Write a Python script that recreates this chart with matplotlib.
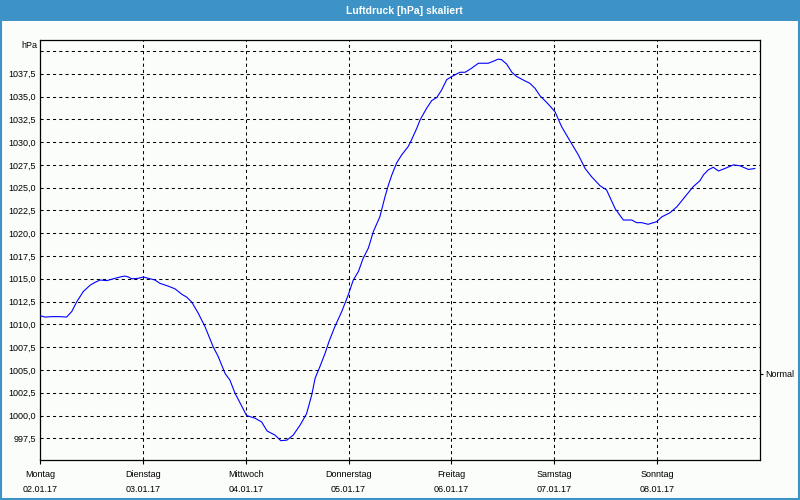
import matplotlib
matplotlib.use("Agg")
import matplotlib.pyplot as plt
import numpy as np
from matplotlib.patches import Rectangle

# hours since Monday 02.01.17 00:00 and pressure (hPa)
hours = [0, 1.2, 2.7, 4.7, 6.2, 7.4, 8.6, 10.1, 11.7, 12.8, 14.0, 15.6, 17.1, 18.7,
         19.8, 20.6, 21.4, 22.9, 24.1, 25.3, 26.8, 28.0, 29.9, 31.5, 33.1, 34.2,
         35.4, 36.9, 38.5, 40.4, 41.6, 43.2, 44.3, 45.5, 47.1, 48.2, 50.2, 51.7,
         53.0, 54.8, 56.2, 57.6, 59.1, 60.7, 62.2, 63.4, 64.2, 65.3, 66.5, 67.5,
         68.8, 70.4, 71.9, 73.1, 74.3, 75.4, 76.6, 77.8, 79.3, 80.5, 81.3, 82.1,
         83.2, 84.4, 85.9, 86.7, 87.9, 88.7, 90.2, 91.4, 92.6, 93.7, 94.9, 96.1,
         98.0, 99.2, 100.7, 102.3, 104.6, 105.8, 106.9, 107.7, 108.9, 110.1, 111.2,
         112.8, 114.3, 115.5, 116.7, 117.8, 119.0, 120.2, 121.7, 123.7, 125.6,
         127.2, 128.7, 130.7, 132.2, 134.2, 136.1, 138.1, 139.2, 140.4, 141.9,
         143.9, 145.1, 147.0, 148.6, 150.5, 152.4, 154.0, 154.8, 155.9, 157.1,
         158.3, 159.8, 161.8, 163.3, 165.3, 166.8]
pressure = [1010.95, 1010.8, 1010.85, 1010.85, 1010.8, 1011.4, 1012.5, 1013.6, 1014.3,
            1014.6, 1014.87, 1014.8, 1015.0, 1015.2, 1015.3, 1015.2, 1015.0, 1015.05,
            1015.2, 1015.05, 1014.87, 1014.5, 1014.2, 1013.9, 1013.3, 1013.0, 1012.45,
            1011.25, 1009.75, 1007.55, 1006.45, 1004.6, 1003.9, 1002.45, 1001.0,
            1000.0, 999.7, 999.3, 998.3, 997.86, 997.24, 997.3, 997.86, 998.96,
            1000.2, 1002.25, 1004.1, 1005.35, 1006.8, 1008.2, 1009.75, 1011.4, 1013.2,
            1014.87, 1015.8, 1017.25, 1018.35, 1020.2, 1021.8, 1024.0, 1025.3, 1026.4,
            1027.7, 1028.6, 1029.5, 1030.25, 1031.5, 1032.45, 1033.7, 1034.55, 1034.9,
            1035.7, 1036.85, 1037.2, 1037.66, 1037.66, 1038.1, 1038.65, 1038.65,
            1038.87, 1039.1, 1039.05, 1038.55, 1037.66, 1037.2, 1036.8, 1036.45,
            1035.9, 1035.06, 1034.55, 1033.96, 1033.3, 1031.7, 1030.1, 1028.6, 1027.1,
            1026.2, 1025.2, 1024.75, 1022.7, 1021.45, 1021.45, 1021.16, 1021.16,
            1020.98, 1021.27, 1021.8, 1022.25, 1022.9, 1024.0, 1025.1, 1025.77, 1026.4,
            1026.94, 1027.24, 1026.83, 1027.1, 1027.5, 1027.4, 1027.0, 1027.1]

day_names = ["Montag", "Dienstag", "Mittwoch", "Donnerstag", "Freitag", "Samstag", "Sonntag"]
day_dates = ["02.01.17", "03.01.17", "04.01.17", "05.01.17", "06.01.17", "07.01.17", "08.01.17"]
y_ticks = [997.5, 1000.0, 1002.5, 1005.0, 1007.5, 1010.0, 1012.5, 1015.0, 1017.5,
           1020.0, 1022.5, 1025.0, 1027.5, 1030.0, 1032.5, 1035.0, 1037.5, 1040.0]
normal_level = 1004.6

blue = "#3d93c6"
bg = "#fbfdfb"
font = "Liberation Sans"

fig = plt.figure(figsize=(8, 5), dpi=100)
fig.patch.set_facecolor(bg)

# window frame + title bar
fig.patches.append(Rectangle((0, 1 - 21 / 500), 1, 21 / 500, transform=fig.transFigure,
                             facecolor=blue, edgecolor="none", zorder=0))
fig.patches.append(Rectangle((0.5 / 800, 1.5 / 500), 798 / 800, 497 / 500, transform=fig.transFigure,
                             facecolor="none", edgecolor=blue, linewidth=1.5, zorder=0))
fig.text(0.506, 1 - 10.5 / 500, "Luftdruck [hPa] skaliert", color="white", fontsize=7.5,
         fontweight="bold", ha="center", va="center", family=font)

ax = fig.add_axes([40 / 800, 40 / 500, 720 / 800, 420 / 500])
ax.set_facecolor(bg)
ax.plot(hours, pressure, color="#0000ff", linewidth=0.8, zorder=3)

ax.set_xlim(0, 168)
ax.set_ylim(995.12, 1041.2)

# grid
for d in range(1, 7):
    ax.axvline(d * 24, color="black", linewidth=0.75, linestyle=(0, (3, 3)), zorder=1)
for y in y_ticks:
    ax.axhline(y, color="black", linewidth=0.75, linestyle=(0, (3, 3)), zorder=1)

for s in ax.spines.values():
    s.set_linewidth(0.9)

ax.set_xticks([d * 24 for d in range(7)])
ax.set_xticklabels([f"{n}\n{dt}" for n, dt in zip(day_names, day_dates)],
                   fontsize=6.5, family=font, linespacing=1.9)
ax.tick_params(axis="x", length=3, width=0.8, pad=4)

ax.set_yticks(y_ticks)
ax.set_yticklabels([f"{v:.1f}".replace(".", ",") if v < 1040 else "" for v in y_ticks],
                   fontsize=6.5, family=font)
ax.tick_params(axis="y", length=0, pad=3)
ax.text(-3 / 720, 1 - 5 / 420, "hPa", transform=ax.transAxes, ha="right", va="center",
        fontsize=6.5, family=font)

ax2 = ax.twinx()
ax2.set_ylim(ax.get_ylim())
ax2.set_yticks([normal_level])
ax2.set_yticklabels(["Normal"], fontsize=6.5, family=font)
ax2.tick_params(axis="y", length=2, width=0.8, pad=2)
for s in ax2.spines.values():
    s.set_visible(False)

fig.savefig("out.png", dpi=100, facecolor=fig.get_facecolor())
